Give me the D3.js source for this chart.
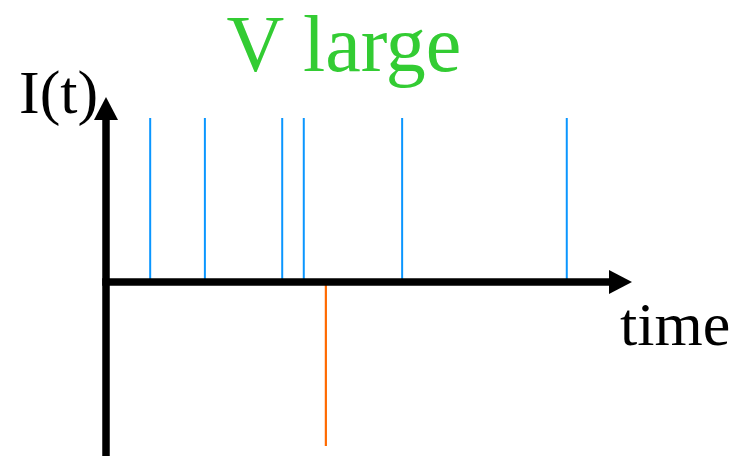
<!DOCTYPE html>
<html>
<head>
<meta charset="utf-8">
<script src="https://cdn.jsdelivr.net/npm/d3@7"></script>
<style>
  html, body { margin: 0; padding: 0; background: #fff; }
  svg { display: block; }
  text { font-family: "Liberation Serif", "DejaVu Serif", "Times New Roman", Times, serif; }
</style>
</head>
<body>
<svg id="chart" width="747" height="456"></svg>
<script>
// Spike train: arrival times of positive (blue) and negative (orange) current pulses
const positiveTimes = [8.4, 18.8, 33.5, 37.6, 56.3, 87.6];
const positiveAmps  = [1, 1, 1, 1, 1, 1];
const negativeTimes = [41.8];
const negativeAmps  = [-1];

const titleText = "V large";
const yLabel = "I(t)";
const xLabel = "time";

const svg = d3.select("#chart");
const W = 747, H = 456;

const x = d3.scaleLinear().domain([0, 100]).range([106, 632]);
const y = d3.scaleLinear().domain([-1, 1]).range([446, 118]);

// spikes
const pos = positiveTimes.map((t, i) => ({ t, a: positiveAmps[i] }));
const neg = negativeTimes.map((t, i) => ({ t, a: negativeAmps[i] }));

svg.append("g").selectAll("line").data(pos).join("line")
  .attr("x1", d => x(d.t)).attr("x2", d => x(d.t))
  .attr("y1", y(0)).attr("y2", d => y(d.a))
  .attr("stroke", "#0a96ff").attr("stroke-width", 2);

svg.append("g").selectAll("line").data(neg).join("line")
  .attr("x1", d => x(d.t)).attr("x2", d => x(d.t))
  .attr("y1", y(0) + 3).attr("y2", d => y(d.a))
  .attr("stroke", "#ff6a00").attr("stroke-width", 2.2);

// axes with arrowheads
const axisW = 7.5;
const x0 = x(0), y0 = y(0);
const xEnd = x.range()[1];
const yTop = 97;

svg.append("line")
  .attr("x1", x0).attr("x2", x0)
  .attr("y1", H).attr("y2", yTop + 20)
  .attr("stroke", "#000").attr("stroke-width", axisW);
svg.append("path")
  .attr("d", `M${x0},${yTop} L${x0 - 12},${yTop + 23} L${x0 + 12},${yTop + 23} Z`)
  .attr("fill", "#000");

svg.append("line")
  .attr("x1", x0 - axisW / 2).attr("x2", xEnd - 20)
  .attr("y1", y0).attr("y2", y0)
  .attr("stroke", "#000").attr("stroke-width", axisW);
svg.append("path")
  .attr("d", `M${xEnd},${y0} L${xEnd - 23},${y0 - 12} L${xEnd - 23},${y0 + 12} Z`)
  .attr("fill", "#000");

// labels
svg.append("text")
  .attr("x", 344).attr("y", 71)
  .attr("text-anchor", "middle")
  .attr("font-size", 80)
  .attr("fill", "#33cc33")
  .text(titleText);

svg.append("text")
  .attr("x", 19).attr("y", 113)
  .attr("font-size", 62)
  .attr("fill", "#000")
  .text(yLabel);

svg.append("text")
  .attr("x", 620).attr("y", 345)
  .attr("font-size", 62)
  .attr("fill", "#000")
  .text(xLabel);
</script>
</body>
</html>
